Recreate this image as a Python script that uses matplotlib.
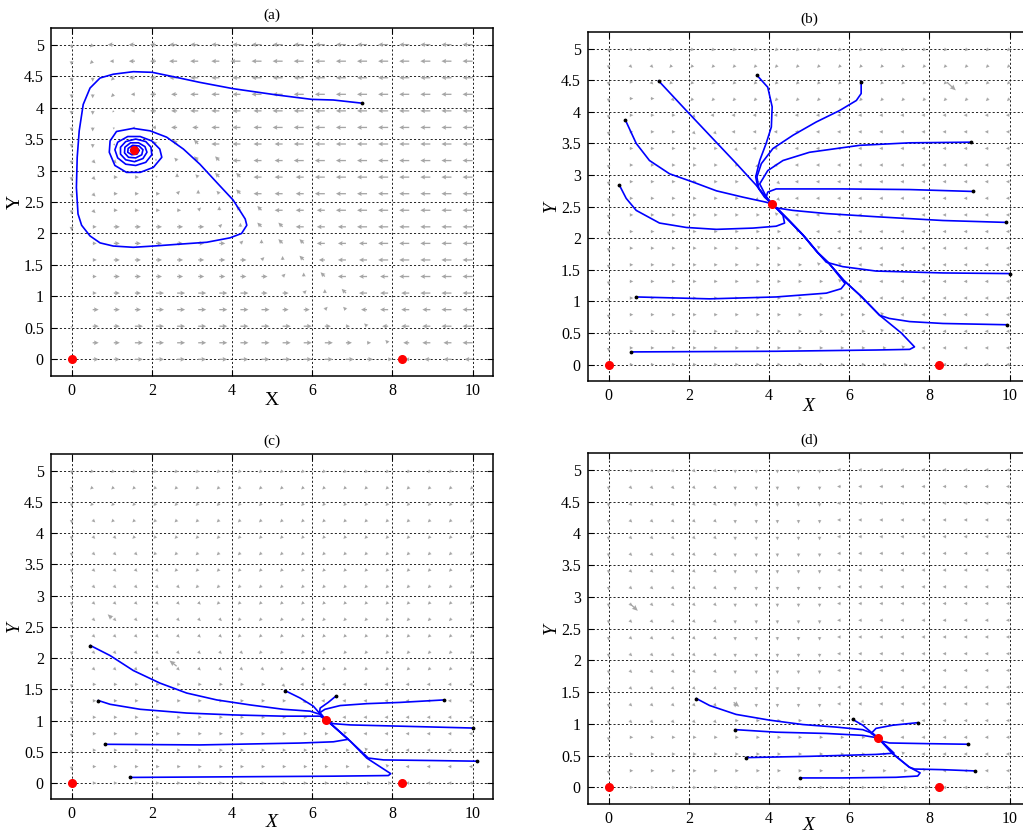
import numpy as np
from matplotlib import pyplot as plt

plt.rcParams['font.family'] = ['Liberation Serif', 'DejaVu Serif']

panel_titles = ['(a)', '(b)', '(c)', '(d)']
x_ticks = [0, 2, 4, 6, 8, 10]
y_ticks = [0, 0.5, 1, 1.5, 2, 2.5, 3, 3.5, 4, 4.5, 5]
y_tick_labels = ['0', '0.5', '1', '1.5', '2', '2.5', '3', '3.5', '4', '4.5', '5']

# equilibria on the X axis (same in every panel)
edge_eq_x = [0, 8.25]
edge_eq_y = [0, 0]

# interior equilibrium of each panel
inner_eq_x = [1.56, 4.08, 6.35, 6.72]
inner_eq_y = [3.33, 2.54, 1.01, 0.78]

# direction field on a 20x20 grid, rows run from Y=5 down to Y=0
# keypad codes: 6 right, 4 left, 8 up, 2 down, 9/7/3/1 diagonals, 5 nothing
field_a_dir = [
    '21444444444444444444',
    '21444444444444444444',
    '22144444444444444444',
    '22144444444444444444',
    '22144444444444444444',
    '22244444444444444444',
    '22357774444444444444',
    '23368777444444444444',
    '23669877744444444444',
    '23666987744444444444',
    '23666698774444444444',
    '26666669877444444444',
    '26666666987744444444',
    '26666666698744444444',
    '26666666669874444444',
    '26666666666987444444',
    '26666666666697444444',
    '26666666666666744444',
    '26666666666666674444',
    '56666666666666664444',
]
# arrow size class 0..4 for panel (a)
field_a_size = [
    '11222333344444444444',
    '11122333444444444444',
    '11122333344444444444',
    '11112233344444444444',
    '11012233334444444444',
    '11001223334444444444',
    '11001223333444444444',
    '11100122333444444444',
    '11110112233344444444',
    '11111111233344444444',
    '11111111223334444444',
    '11222221122333444444',
    '01222222112233344444',
    '01222222211223344444',
    '01222222221123334444',
    '01223333322112333444',
    '02223333332211233344',
    '02233333333321123344',
    '02233333333332112334',
    '02233333333333211233',
]
field_b_dir = [
    '23111111111111111111',
    '23311111111111111111',
    '26311111111111111111',
    '26631111111111111111',
    '26663444444444444444',
    '26663344444444444444',
    '26666634444444444444',
    '26666663444444444444',
    '26666666344444444444',
    '26666663344444444444',
    '26666666744444444444',
    '26666666674444444444',
    '26666666667444444444',
    '26666666667744444444',
    '26666666666744444444',
    '26666666666674444444',
    '26666666666667444444',
    '26666666666667744444',
    '26666666666666744444',
    '56666666666666654444',
]
field_c_dir = [
    '21111111111111111111',
    '21111111111111111111',
    '21111111111111111111',
    '23111111111111111111',
    '23311111111111111111',
    '23331111111111111111',
    '23333111111111111111',
    '23333311111111111111',
    '23333331111111111111',
    '23333333111111111111',
    '23333333111111111111',
    '23333333311111111111',
    '23333333331111111111',
    '26666666663444444444',
    '26666666666344444444',
    '26666666666654444444',
    '26666666666667444444',
    '26666666666666744444',
    '26666666666666674444',
    '56666666666666664444',
]
field_d_dir = [
    '23333322222444444444',
    '23333322222444444444',
    '23333322222444444444',
    '23333322222444444444',
    '23333322222444444444',
    '23333322222444444444',
    '23333322222444444444',
    '23333322222444444444',
    '23333322222444444444',
    '23333322222444444444',
    '23333322222444444444',
    '23333322222444444444',
    '23333322222444444444',
    '23333322222444444444',
    '23333322222444444444',
    '23333366666634444444',
    '26666666666665444444',
    '26666666666666744444',
    '26666666666666674444',
    '56666666666666664444',
]

# a few longer field arrows: tail x, tail y, dx, dy (data units)
long_arrows = [
    [],
    [(8.44, 4.47, 0.22, -0.13)],
    [(2.62, 1.87, -0.18, 0.09), (1.00, 2.64, -0.10, 0.06)],
    [(0.54, 2.89, 0.19, -0.11), (3.12, 1.34, 0.14, -0.07)],
]

# trajectories, first point is the initial condition
traj_a = [
    ([7.24, 6.53, 5.99, 5.12, 4.03, 3.20, 2.54, 2.01, 1.54, 1.04, 0.71, 0.46, 0.29, 0.19,
      0.14, 0.12, 0.16, 0.25, 0.46, 0.71, 1.04, 1.54, 2.04, 2.70, 3.37, 3.95, 4.24, 4.37,
      4.33, 4.03, 3.62, 3.20, 2.79, 2.37, 1.96, 1.54, 1.12, 0.96, 0.94, 1.08, 1.37, 1.71,
      2.04, 2.25, 2.20, 2.00, 1.71, 1.40, 1.15, 1.08, 1.15, 1.35, 1.60, 1.85, 2.00, 1.98,
      1.85, 1.60, 1.35, 1.22, 1.22, 1.35, 1.57, 1.78, 1.88, 1.83, 1.67, 1.47, 1.33, 1.32,
      1.42, 1.60, 1.75, 1.78, 1.68, 1.52, 1.41, 1.40, 1.50, 1.63, 1.69, 1.62, 1.52, 1.47,
      1.52, 1.60, 1.58, 1.56],
     [4.07, 4.12, 4.13, 4.20, 4.30, 4.40, 4.49, 4.56, 4.57, 4.53, 4.47, 4.31, 4.05, 3.63,
      3.21, 2.73, 2.31, 2.13, 1.96, 1.85, 1.80, 1.78, 1.80, 1.83, 1.86, 1.93, 2.00, 2.13,
      2.23, 2.53, 2.81, 3.10, 3.34, 3.53, 3.63, 3.67, 3.62, 3.47, 3.29, 3.08, 2.97, 2.97,
      3.05, 3.21, 3.34, 3.47, 3.54, 3.54, 3.45, 3.33, 3.20, 3.10, 3.08, 3.13, 3.25, 3.37,
      3.46, 3.50, 3.46, 3.37, 3.26, 3.17, 3.14, 3.19, 3.29, 3.38, 3.44, 3.44, 3.37, 3.28,
      3.21, 3.20, 3.25, 3.33, 3.39, 3.40, 3.35, 3.29, 3.25, 3.26, 3.32, 3.37, 3.37, 3.32,
      3.28, 3.30, 3.34, 3.33]),
]

traj_b = [
    ([1.25, 1.94, 2.52, 3.19, 3.68, 3.93, 4.08],
     [4.49, 4.02, 3.63, 3.18, 2.84, 2.65, 2.54]),
    ([3.70, 3.97, 4.08, 4.06, 3.93, 3.77, 3.67, 3.72, 3.89, 4.08],
     [4.58, 4.39, 4.08, 3.76, 3.50, 3.23, 2.97, 2.81, 2.65, 2.54]),
    ([6.30, 6.30, 6.18, 5.76, 5.18, 4.60, 4.10, 3.81, 3.70, 3.75, 3.92, 4.08],
     [4.48, 4.29, 4.18, 4.02, 3.84, 3.63, 3.42, 3.18, 2.97, 2.78, 2.64, 2.54]),
    ([9.04, 7.51, 6.26, 5.01, 4.35, 3.97, 3.77, 3.93, 4.08],
     [3.52, 3.51, 3.47, 3.36, 3.23, 3.07, 2.86, 2.66, 2.54]),
    ([9.09, 7.51, 5.84, 4.18, 3.97, 3.93, 4.08],
     [2.74, 2.77, 2.78, 2.78, 2.73, 2.65, 2.54]),
    ([9.92, 8.34, 6.67, 5.43, 4.60, 4.18, 4.08],
     [2.25, 2.28, 2.34, 2.39, 2.44, 2.48, 2.54]),
    ([0.42, 0.69, 1.02, 1.52, 2.10, 2.69, 3.35, 3.93, 4.08],
     [3.87, 3.50, 3.23, 3.02, 2.89, 2.75, 2.65, 2.57, 2.54]),
    ([0.27, 0.44, 0.69, 1.27, 1.94, 2.69, 3.60, 4.18, 4.39, 4.35, 4.22, 4.08],
     [2.84, 2.63, 2.44, 2.24, 2.17, 2.14, 2.16, 2.19, 2.24, 2.36, 2.45, 2.54]),
    ([10.0, 8.34, 6.67, 5.84, 5.43, 5.22, 4.85, 4.50, 4.25, 4.08],
     [1.44, 1.45, 1.48, 1.55, 1.62, 1.77, 2.05, 2.28, 2.44, 2.54]),
    ([0.69, 2.52, 4.18, 5.43, 5.80, 5.90, 5.50, 5.22, 4.85, 4.50, 4.25, 4.08],
     [1.07, 1.04, 1.07, 1.13, 1.20, 1.28, 1.60, 1.77, 2.05, 2.28, 2.44, 2.54]),
    ([9.93, 8.34, 7.51, 7.00, 6.76, 6.30, 5.87, 5.50, 5.22, 4.85, 4.50, 4.25, 4.08],
     [0.63, 0.65, 0.68, 0.73, 0.78, 1.08, 1.33, 1.60, 1.77, 2.05, 2.28, 2.44, 2.54]),
    ([0.57, 4.18, 6.67, 7.51, 7.63, 7.30, 6.76, 6.30, 5.87, 5.50, 5.22, 4.85, 4.50, 4.25, 4.08],
     [0.20, 0.21, 0.23, 0.24, 0.28, 0.50, 0.78, 1.08, 1.33, 1.60, 1.77, 2.05, 2.28, 2.44, 2.54]),
]

traj_c = [
    ([0.47, 0.96, 1.54, 2.20, 2.87, 3.62, 4.45, 5.28, 5.95, 6.24, 6.35],
     [2.20, 2.04, 1.80, 1.60, 1.44, 1.33, 1.25, 1.18, 1.15, 1.09, 1.01]),
    ([0.67, 0.96, 1.71, 2.87, 4.03, 5.28, 6.20, 6.35],
     [1.32, 1.26, 1.18, 1.12, 1.09, 1.07, 1.07, 1.01]),
    ([5.32, 5.70, 6.03, 6.22, 6.35],
     [1.48, 1.36, 1.23, 1.09, 1.01]),
    ([6.59, 6.40, 6.20, 6.18, 6.28, 6.35],
     [1.39, 1.29, 1.20, 1.12, 1.04, 1.01]),
    ([9.29, 8.19, 7.36, 6.70, 6.32, 6.20, 6.26, 6.35],
     [1.33, 1.29, 1.27, 1.24, 1.18, 1.13, 1.06, 1.01]),
    ([10.02, 8.19, 6.95, 6.53, 6.41, 6.35],
     [0.88, 0.91, 0.93, 0.95, 0.98, 1.01]),
    ([0.83, 3.20, 5.70, 6.53, 6.90, 6.53, 6.35],
     [0.62, 0.61, 0.64, 0.66, 0.70, 0.91, 1.01]),
    ([10.10, 9.03, 7.78, 7.40, 6.95, 6.53, 6.35],
     [0.35, 0.36, 0.37, 0.40, 0.67, 0.91, 1.01]),
    ([1.46, 4.03, 6.53, 7.90, 7.96, 7.36, 6.95, 6.53, 6.35],
     [0.09, 0.10, 0.11, 0.12, 0.15, 0.40, 0.67, 0.91, 1.01]),
]

traj_d = [
    ([2.19, 2.52, 3.18, 4.01, 4.85, 5.68, 6.34, 6.59, 6.72],
     [1.40, 1.29, 1.15, 1.06, 0.99, 0.95, 0.91, 0.85, 0.78]),
    ([3.16, 4.18, 5.43, 6.34, 6.72],
     [0.91, 0.87, 0.85, 0.82, 0.78]),
    ([6.09, 6.34, 6.55, 6.72],
     [1.07, 0.98, 0.87, 0.78]),
    ([7.71, 7.09, 6.67, 6.55, 6.72],
     [1.02, 0.98, 0.93, 0.85, 0.78]),
    ([8.97, 7.92, 7.01, 6.80, 6.72],
     [0.68, 0.69, 0.70, 0.73, 0.78]),
    ([3.43, 5.01, 6.67, 7.12, 6.72],
     [0.47, 0.49, 0.52, 0.54, 0.78]),
    ([9.15, 8.34, 7.63, 7.50, 7.09, 6.72],
     [0.26, 0.28, 0.29, 0.32, 0.53, 0.78]),
    ([4.78, 5.84, 7.17, 7.71, 7.77, 7.50, 7.09, 6.72],
     [0.15, 0.15, 0.16, 0.18, 0.23, 0.32, 0.53, 0.78]),
]

KEYPAD = {'1': (-1, -1), '2': (0, -1), '3': (1, -1), '4': (-1, 0),
          '6': (1, 0), '7': (-1, 1), '8': (0, 1), '9': (1, 1)}
ARROW_PX = [2.2, 4.0, 6.0, 8.0, 10.0]
FIELD_GREY = '#a6a6a6'


def draw_field(ax, dirs, sizes=None, small_px=3.6):
    gx = np.linspace(0, 10, len(dirs[0]))
    gy = np.linspace(5, 0, len(dirs))
    X, Y, U, V = [], [], [], []
    for i, row in enumerate(dirs):
        for j, code in enumerate(row):
            if code not in KEYPAD:
                continue
            ux, uy = KEYPAD[code]
            n = np.hypot(ux, uy)
            length = ARROW_PX[int(sizes[i][j])] if sizes else small_px
            X.append(gx[j])
            Y.append(gy[i])
            U.append(length * ux / n)
            V.append(length * uy / n)
    ax.quiver(X, Y, U, V, angles='uv', scale_units='dots', scale=1, units='dots',
              width=1.3, headwidth=3.6, headlength=3.6, headaxislength=3.2,
              minlength=0.5, color=FIELD_GREY, zorder=1)


def style_axes(ax, title, italic, xlabel_y):
    ax.set_xlim(-0.52, 10.52)
    ax.set_ylim(-0.26, 5.26)
    ax.set_xticks(x_ticks)
    ax.set_xticklabels([str(t) for t in x_ticks])
    ax.set_yticks(y_ticks)
    ax.set_yticklabels(y_tick_labels)
    ax.tick_params(direction='in', top=True, right=True, length=4, width=0.8,
                   labelsize=11.5, pad=5)
    ax.grid(True, color='k', linestyle=(0, (2.5, 2.5)), linewidth=0.6)
    ax.set_axisbelow(True)
    for sp in ax.spines.values():
        sp.set_linewidth(1.1)
    ax.set_title(title, fontsize=11, pad=7)
    style = 'italic' if italic else 'normal'
    ax.set_xlabel('X', fontsize=14, fontstyle=style, va='center')
    ax.set_ylabel('Y', fontsize=14, fontstyle=style, va='center')
    ax.xaxis.set_label_coords(0.5, xlabel_y)
    ax.yaxis.set_label_coords(-0.081, 0.5)


fig = plt.figure(figsize=(10.23, 8.36), dpi=100)
boxes = [[0.0496, 0.5506, 0.4327, 0.4156],
         [0.5745, 0.5443, 0.4327, 0.4171],
         [0.0496, 0.0439, 0.4327, 0.4127],
         [0.5745, 0.0383, 0.4327, 0.4195]]
xlabel_pos = [-0.07, -0.072, -0.068, -0.062]
fields = [(field_a_dir, field_a_size), (field_b_dir, None),
          (field_c_dir, None), (field_d_dir, None)]
trajectories = [traj_a, traj_b, traj_c, traj_d]

for k in range(4):
    ax = fig.add_axes(boxes[k])
    style_axes(ax, panel_titles[k], italic=(k > 0), xlabel_y=xlabel_pos[k])
    draw_field(ax, *fields[k])
    for tx, ty, tu, tv in long_arrows[k]:
        ax.quiver([tx], [ty], [tu], [tv], angles='xy', scale_units='xy', scale=1,
                  units='dots', width=1.3, headwidth=4, headlength=4.5,
                  headaxislength=4, color=FIELD_GREY, zorder=1)
    for xs, ys in trajectories[k]:
        ax.plot(xs, ys, color='#0000ff', linewidth=1.2, zorder=3)
        ax.plot(xs[0], ys[0], 'k.', markersize=3.5, zorder=4)
    ax.plot(edge_eq_x, edge_eq_y, 'o', color='red', markersize=5.5, linestyle='none', zorder=5)
    ax.plot(inner_eq_x[k], inner_eq_y[k], 'o', color='red', markersize=5.5, zorder=5)

fig.savefig('out.png', dpi=100)
